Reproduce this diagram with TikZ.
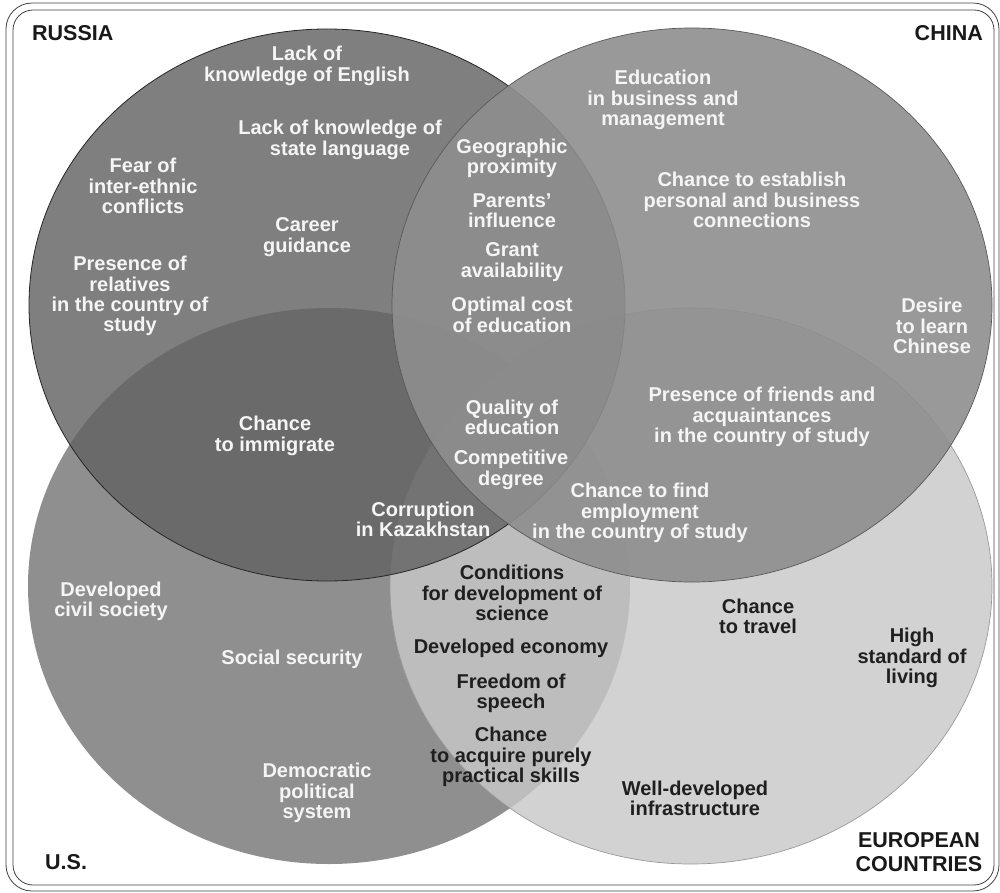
\documentclass[tikz,border=0pt]{standalone}
\usepackage{fontspec}
\setmainfont{Liberation Sans}
\usepackage{tikz}
\usepackage{xcolor}
\usetikzlibrary{positioning}

\definecolor{usgray}{gray}{0.56}
\definecolor{eugray}{gray}{0.785}
\definecolor{rugray}{gray}{0.39}
\definecolor{cngray}{gray}{0.555}

\begin{document}
\begin{tikzpicture}[x=1pt,y=-1pt,
  item/.style={font=\fontsize{20}{20.3}\selectfont\bfseries, align=center,
    text=white!96!black, inner sep=0pt},
  darkitem/.style={item, text=black!88},
  country/.style={font=\fontsize{21.5}{24}\selectfont\bfseries, align=center,
    text=black!90, inner sep=0pt}]
\useasboundingbox (0,0) rectangle (1000,893);

% frame
\draw[black!75, line width=0.8pt, rounded corners=26pt] (6,3) rectangle (999,891);
\draw[black!75, line width=0.8pt, rounded corners=20pt] (13,10) rectangle (994,885);

% the four sets
\coordinate (us) at (329,586);
\coordinate (eu) at (691,586);
\coordinate (ru) at (327,305);
\coordinate (cn) at (692,305);
\fill[usgray] (us) ellipse [x radius=301pt, y radius=278pt];
\filldraw[fill=eugray, fill opacity=0.82, draw=black!40, line width=0.7pt] (eu) ellipse [x radius=301pt, y radius=278pt];
\filldraw[fill=rugray, fill opacity=0.82, draw=black!85, line width=0.8pt] (ru) ellipse [x radius=298pt, y radius=276pt];
\filldraw[fill=cngray, fill opacity=0.9, draw=black!65, line width=0.7pt] (cn) ellipse [x radius=300pt, y radius=277pt];

% country names
\node[country, anchor=west] (rtitle) at (32,33) {RUSSIA};
\node[country, anchor=east] (ctitle) at (983,33) {CHINA};
\node[country, anchor=west] (utitle) at (45,862) {U.S.};
\node[country] (etitle) at (919,852) {EUROPEAN\\COUNTRIES};

% Russia
\node[item] (r1) at (307,66) {Lack of\\knowledge of English};
\node[item] (r2) at (340,140) {Lack of knowledge of\\state language};
\node[item] (r3) at (143,186) {Fear of\\inter-ethnic\\conflicts};
\node[item] (r4) at (307,237) {Career\\guidance};
\node[item] (r5) at (130,296) {Presence of\\relatives\\in the country of\\study};
\node[item] (ru1) at (275,436) {Chance\\to immigrate};
\node[item] (ru2) at (423,519) {Corruption\\in Kazakhstan};

% Russia and China
\node[item] (rc1) at (512,158) {Geographic\\proximity};
\node[item] (rc2) at (512,211) {Parents'\\influence};
\node[item] (rc3) at (512,262) {Grant\\availability};
\node[item] (rc4) at (512,315) {Optimal cost\\of education};
\node[item] (all1) at (512,417) {Quality of\\education};
\node[item] (all2) at (511,470) {Competitive\\degree};

% China
\node[item] (c1) at (663,100) {Education\\in business and\\management};
\node[item] (c2) at (752,200) {Chance to establish\\personal and business\\connections};
\node[item] (c3) at (932,326) {Desire\\to learn\\Chinese};
\node[item] (c4) at (762,417) {Presence of friends and\\acquaintances\\in the country of study};
\node[item] (ce1) at (640,513) {Chance to find\\employment\\in the country of study};

% U.S.
\node[item] (u1) at (111,601) {Developed\\civil society};
\node[item] (u2) at (292,659) {Social security};
\node[item] (u3) at (317,793) {Democratic\\political\\system};
\node[darkitem] (ue1) at (512,593) {Conditions\\for development of\\science};
\node[darkitem] (ue2) at (511,648) {Developed economy};
\node[darkitem] (ue3) at (511,693) {Freedom of\\speech};
\node[darkitem] (ue4) at (511,757) {Chance\\to acquire purely\\practical skills};

% Europe
\node[darkitem] (e1) at (758,616) {Chance\\to travel};
\node[darkitem] (e2) at (912,658) {High\\standard of\\living};
\node[darkitem] (e3) at (695,798) {Well-developed\\infrastructure};
\end{tikzpicture}
\end{document}
